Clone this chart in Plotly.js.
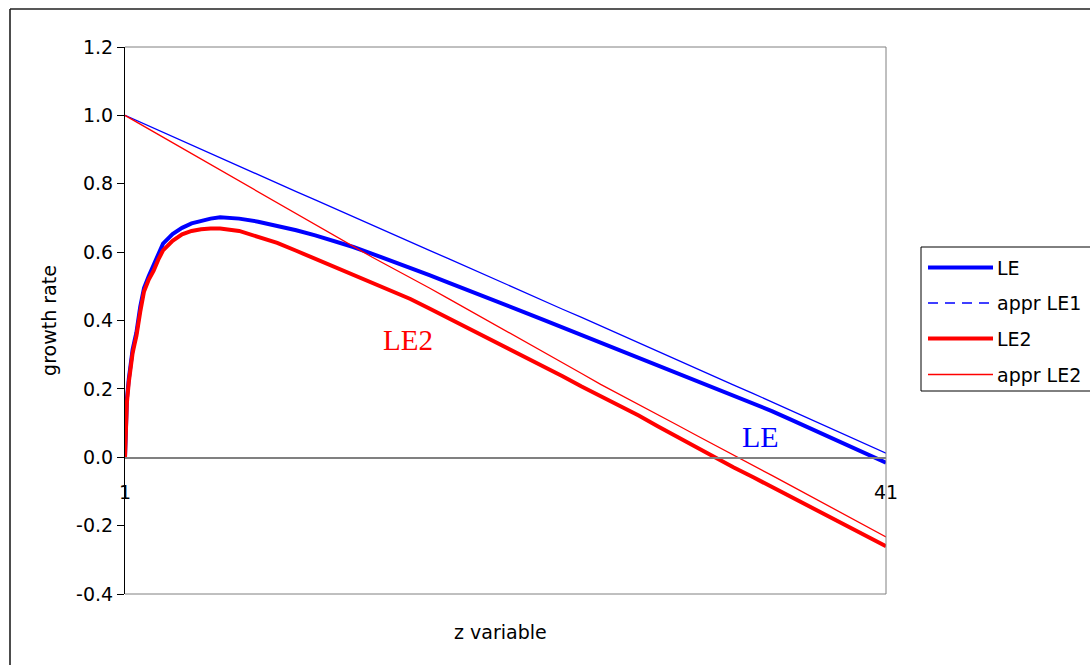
<!DOCTYPE html>
<html>
<head>
<meta charset="utf-8">
<script src="https://cdn.plot.ly/plotly-3.0.1.min.js"></script>
<style>
  html, body { margin: 0; padding: 0; background: #ffffff; }
  #chart { width: 1090px; height: 665px; }
</style>
</head>
<body>
<div id="chart"></div>
<script>
// ---------- data ----------
const zFine = [1, 1.1, 1.2, 1.3, 1.4, 1.5, 1.6, 1.8, 2, 2.25, 2.5, 2.75, 3, 3.5, 4, 4.5, 5, 5.5, 6,
  7, 8, 9, 10, 11, 12, 13, 14, 15, 16, 17, 18, 19, 20, 21, 22, 23, 24, 25, 26, 27, 28, 29, 30,
  31, 32, 33, 34, 35, 36, 37, 38, 39, 40, 41];

const LE = [0, 0.17, 0.23, 0.28, 0.315, 0.34, 0.365, 0.44, 0.495, 0.53, 0.56, 0.595, 0.625, 0.653, 0.671, 0.684, 0.692, 0.698, 0.702,
  0.698, 0.689, 0.677, 0.664, 0.649, 0.633, 0.615, 0.595, 0.575, 0.555, 0.533, 0.511, 0.490, 0.468, 0.446, 0.424,
  0.402, 0.380, 0.357, 0.336, 0.314, 0.292, 0.270, 0.248, 0.226, 0.203, 0.181, 0.158, 0.135, 0.110, 0.085, 0.060,
  0.034, 0.009, -0.016];

const LE2 = [0, 0.16, 0.22, 0.27, 0.305, 0.33, 0.355, 0.425, 0.485, 0.52, 0.545, 0.578, 0.605, 0.633, 0.652, 0.662, 0.667, 0.669, 0.669,
  0.662, 0.646, 0.627, 0.604, 0.581, 0.557, 0.534, 0.511, 0.488, 0.463, 0.435, 0.407, 0.379, 0.350, 0.322, 0.294,
  0.266, 0.237, 0.207, 0.179, 0.151, 0.122, 0.091, 0.060, 0.029, -0.002, -0.030, -0.058, -0.087, -0.115, -0.144,
  -0.173, -0.202, -0.231, -0.260];

const zInt = [1, 2, 3, 4, 5, 6, 7, 8, 9, 10, 11, 12, 13, 14, 15, 16, 17, 18, 19, 20, 21,
  22, 23, 24, 25, 26, 27, 28, 29, 30, 31, 32, 33, 34, 35, 36, 37, 38, 39, 40, 41];

const apprLE1 = [1.000, 0.975, 0.951, 0.926, 0.901, 0.876, 0.852, 0.827, 0.802, 0.777, 0.753, 0.728, 0.703, 0.679,
  0.654, 0.630, 0.605, 0.581, 0.556, 0.532, 0.507, 0.483, 0.458, 0.433, 0.409, 0.384, 0.360, 0.335, 0.310, 0.286,
  0.261, 0.236, 0.211, 0.187, 0.162, 0.137, 0.112, 0.087, 0.062, 0.037, 0.012];

const apprLE2 = [1.000, 0.968, 0.936, 0.904, 0.872, 0.840, 0.808, 0.776, 0.744, 0.712, 0.680, 0.649, 0.617, 0.585,
  0.555, 0.526, 0.495, 0.464, 0.433, 0.402, 0.371, 0.340, 0.309, 0.278, 0.245, 0.213, 0.184, 0.155, 0.126, 0.095,
  0.065, 0.036, 0.006, -0.023, -0.053, -0.083, -0.113, -0.143, -0.173, -0.203, -0.233];

const seriesNames = ['LE', 'appr LE1', 'LE2', 'appr LE2'];
const xTickVals = [1, 41];
const xTickText = ['1', '41'];
const yTickVals = [-0.4, -0.2, 0, 0.2, 0.4, 0.6, 0.8, 1.0, 1.2];
const yTickText = ['-0.4', '-0.2', '0.0', '0.2', '0.4', '0.6', '0.8', '1.0', '1.2'];

// ---------- layout helpers (pixel -> paper) ----------
const W = 1090, H = 665;
const PL = 125, PR = 886, PT = 47, PB = 594;
const px = v => (v - PL) / (PR - PL);
const py = v => (PB - v) / (PB - PT);

const BLUE = '#0000ff', RED = '#ff0000';
const FONT = 'DejaVu Sans, Arial, sans-serif';
const FS = 19;

const traces = [
  { x: zFine, y: LE, name: seriesNames[0], mode: 'lines', line: { color: BLUE, width: 4 } },
  { x: zInt, y: apprLE1, name: seriesNames[1], mode: 'lines', line: { color: BLUE, width: 1.3 } },
  { x: zFine, y: LE2, name: seriesNames[2], mode: 'lines', line: { color: RED, width: 4 } },
  { x: zInt, y: apprLE2, name: seriesNames[3], mode: 'lines', line: { color: RED, width: 1.3 } }
];

// manual legend (Excel-style long samples)
const legRows = [267.5, 303, 338.5, 374.5];
const legStyles = [
  { color: BLUE, width: 4, dash: 'solid' },
  { color: BLUE, width: 1.5, dash: '10px,7px' },
  { color: RED, width: 4, dash: 'solid' },
  { color: RED, width: 1.3, dash: 'solid' }
];

const shapes = [
  // outer chart frame (left + top)
  { type: 'line', xref: 'paper', yref: 'paper', x0: px(10), x1: px(10), y0: py(700), y1: py(9),
    line: { color: '#202020', width: 1.6 } },
  { type: 'line', xref: 'paper', yref: 'paper', x0: px(10), x1: px(1100), y0: py(9), y1: py(9),
    line: { color: '#202020', width: 1.6 } },
  // plot area frame (top, right, bottom)
  { type: 'line', xref: 'paper', yref: 'paper', x0: 0, x1: 1, y0: 1, y1: 1, line: { color: '#808080', width: 1 } },
  { type: 'line', xref: 'paper', yref: 'paper', x0: 1, x1: 1, y0: 0, y1: 1, line: { color: '#808080', width: 1 } },
  { type: 'line', xref: 'paper', yref: 'paper', x0: 0, x1: 1, y0: 0, y1: 0, line: { color: '#808080', width: 1 } },
  // legend box
  { type: 'rect', xref: 'paper', yref: 'paper', x0: px(921), x1: px(1105), y0: py(391), y1: py(247),
    line: { color: '#000000', width: 1 }, fillcolor: '#ffffff', layer: 'above' }
];
legRows.forEach((r, i) => {
  shapes.push({ type: 'line', xref: 'paper', yref: 'paper', x0: px(928), x1: px(993), y0: py(r), y1: py(r),
    line: legStyles[i], layer: 'above' });
});

const annotations = [
  { xref: 'paper', yref: 'paper', x: px(500), y: py(632), text: 'z variable', showarrow: false,
    xanchor: 'center', yanchor: 'middle', font: { family: FONT, size: FS, color: '#000' } },
  { xref: 'x', yref: 'y', x: 15.88, y: 0.342, text: 'LE2', showarrow: false,
    xanchor: 'center', yanchor: 'middle', font: { family: 'Liberation Serif, Times New Roman, serif', size: 29, color: RED } },
  { xref: 'x', yref: 'y', x: 34.38, y: 0.061, text: 'LE', showarrow: false,
    xanchor: 'center', yanchor: 'middle', font: { family: 'Liberation Serif, Times New Roman, serif', size: 30, color: BLUE } }
];
legRows.forEach((r, i) => {
  annotations.push({ xref: 'paper', yref: 'paper', x: px(995), y: py(r), text: seriesNames[i], showarrow: false,
    xanchor: 'left', yanchor: 'middle', font: { family: FONT, size: FS, color: '#000' } });
});

const layout = {
  width: W, height: H,
  margin: { l: PL, r: W - PR, t: PT, b: H - PB, pad: 0 },
  paper_bgcolor: '#ffffff', plot_bgcolor: '#ffffff',
  showlegend: false,
  font: { family: FONT, size: FS, color: '#000' },
  xaxis: {
    range: [1, 41], anchor: 'free', position: 0.25,
    tickmode: 'array', tickvals: xTickVals, ticktext: xTickText,
    showgrid: false, zeroline: false, showline: true, linecolor: '#808080', linewidth: 1.3,
    ticks: '', ticklabelstandoff: 18, tickfont: { family: FONT, size: FS, color: '#000' }
  },
  yaxis: {
    range: [-0.4, 1.2], tickmode: 'array', tickvals: yTickVals, ticktext: yTickText,
    showgrid: false, zeroline: false, showline: true, linecolor: '#000000', linewidth: 1,
    ticks: 'outside', ticklen: 7, tickcolor: '#000', tickwidth: 1,
    tickfont: { family: FONT, size: FS, color: '#000' },
    title: { text: 'growth rate', font: { family: FONT, size: FS, color: '#000' }, standoff: 14 }
  },
  shapes: shapes,
  annotations: annotations
};

Plotly.newPlot('chart', traces, layout, { staticPlot: true, displayModeBar: false });
</script>
</body>
</html>
